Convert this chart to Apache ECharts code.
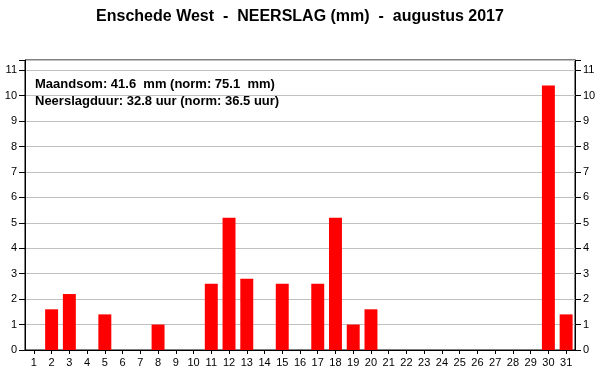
<!DOCTYPE html>
<html>
<head>
<meta charset="utf-8">
<script src="https://cdn.jsdelivr.net/npm/echarts@6/dist/echarts.min.js"></script>
<style>
html,body{margin:0;padding:0;background:#fff;}
#c{width:600px;height:390px;}
</style>
</head>
<body>
<div id="c"></div>
<script>
const days = ['1','2','3','4','5','6','7','8','9','10','11','12','13','14','15','16','17','18','19','20','21','22','23','24','25','26','27','28','29','30','31'];
const precip = [0,1.6,2.2,0,1.4,0,0,1.0,0,0,2.6,5.2,2.8,0,2.6,0,2.6,5.2,1.0,1.6,0,0,0,0,0,0,0,0,0,10.4,1.4];
const titleText = 'Enschede West  -  NEERSLAG (mm)  -  augustus 2017';
const infoLines = ['Maandsom: 41.6  mm (norm: 75.1  mm)', 'Neerslagduur: 32.8 uur (norm: 36.5 uur)'];
const yMax = 11.4;

const chart = echarts.init(document.getElementById('c'), null, {renderer:'canvas'});
const fontFam = '"Liberation Sans", Arial, sans-serif';
const yLabelFmt = v => Number.isInteger(v) ? String(v) : '';
const yAxisBase = {
  type:'value', min:0, max:yMax, interval:1,
  axisLine:{show:true, lineStyle:{color:'#000', width:1}},
  axisTick:{show:true, length:6, lineStyle:{color:'#000'}},
  axisLabel:{color:'#000', fontSize:11, fontFamily:fontFam, margin:8, formatter:yLabelFmt}
};
chart.setOption({
  animation:false,
  backgroundColor:'#fff',
  title:{
    text:titleText, left:'center', top:4,
    textStyle:{fontSize:16, fontWeight:'bold', color:'#000', fontFamily:fontFam}
  },
  grid:{left:25, right:25, top:60, bottom:40, show:true, borderColor:'#000', borderWidth:1, backgroundColor:'transparent'},
  xAxis:{
    type:'category', data:days, boundaryGap:true,
    axisLine:{show:true, lineStyle:{color:'#000'}},
    axisTick:{show:true, alignWithLabel:true, length:4, lineStyle:{color:'#000'}},
    axisLabel:{color:'#000', fontSize:11, fontFamily:fontFam, margin:7, interval:0},
    splitLine:{show:false}
  },
  yAxis:[
    Object.assign({}, yAxisBase, {position:'left', splitLine:{show:true, lineStyle:{color:'#c0c0c0', width:1}}}),
    Object.assign({}, yAxisBase, {position:'right', splitLine:{show:false}})
  ],
  graphic:[{
    type:'text', left:35, top:76,
    style:{text:infoLines.join('\n'), fontSize:13, fontWeight:'bold', fill:'#000', fontFamily:fontFam, lineHeight:17}
  }],
  series:[{
    type:'bar', data:precip, barWidth:'73%', yAxisIndex:0,
    itemStyle:{color:'#ff0000'}
  }]
});
</script>
</body>
</html>
